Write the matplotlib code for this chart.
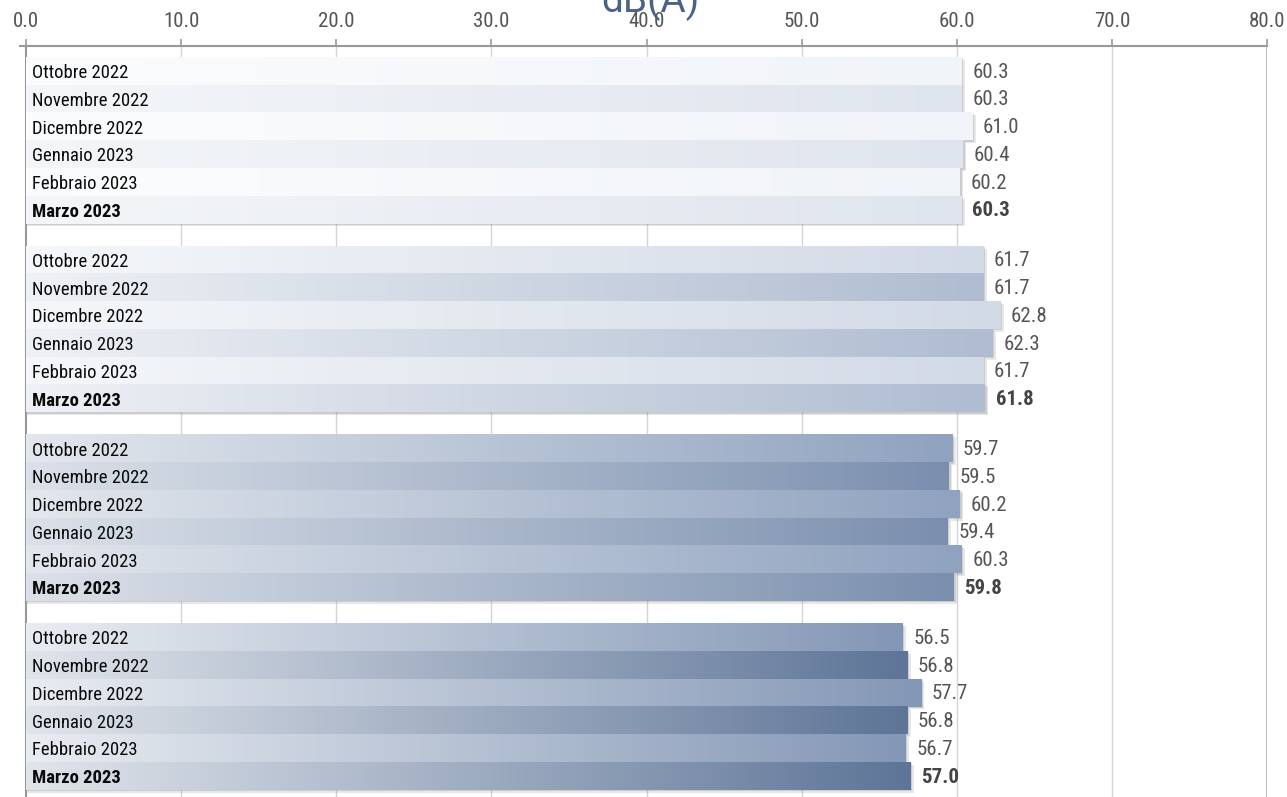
import numpy as np
import matplotlib
matplotlib.use("Agg")
import matplotlib.pyplot as plt
from matplotlib.colors import LinearSegmentedColormap
from matplotlib.patches import Rectangle

# ---- data ----
months = ["Ottobre 2022", "Novembre 2022", "Dicembre 2022",
          "Gennaio 2023", "Febbraio 2023", "Marzo 2023"]
group1 = [60.3, 60.3, 61.0, 60.4, 60.2, 60.3]
group2 = [61.7, 61.7, 62.8, 62.3, 61.7, 61.8]
group3 = [59.7, 59.5, 60.2, 59.4, 60.3, 59.8]
group4 = [56.5, 56.8, 57.7, 56.8, 56.7, 57.0]
groups = [group1, group2, group3, group4]
xticks = [0, 10, 20, 30, 40, 50, 60, 70, 80]
title = "dB(A)"

# gradient colours per group: (light row left, light row right, dark row left, dark row right)
group_colors = [
    ("#fbfcfd", "#f1f4f8", "#f4f6f9", "#dfe5ee"),
    ("#f5f7fa", "#d2dae6", "#eef1f5", "#afbcd1"),
    ("#e3e7ed", "#8fa2bf", "#dce1e9", "#7a8fae"),
    ("#e9ecf1", "#8397b6", "#e1e5eb", "#5e7598"),
]

FONT = ["Roboto Condensed", "Roboto", "DejaVu Sans"]
FONT_TITLE = ["Roboto", "DejaVu Sans"]

fig = plt.figure(figsize=(12.87, 7.97), dpi=100)
ax = fig.add_axes([26 / 1287, 0.0, (1267 - 26) / 1287, 1 - 46 / 797])

group_pitch = 6.8
grad = np.linspace(0, 1, 256).reshape(1, -1)

for g, vals in enumerate(groups):
    cl0, cl1, cd0, cd1 = group_colors[g]
    cmap_light = LinearSegmentedColormap.from_list("l%d" % g, [cl0, cl1])
    cmap_dark = LinearSegmentedColormap.from_list("d%d" % g, [cd0, cd1])
    for i, v in enumerate(vals):
        y = g * group_pitch + i
        cmap = cmap_light if i % 2 == 0 else cmap_dark
        # soft shadow
        ax.add_patch(Rectangle((0.0, y - 0.5 + 0.05), v + 0.12, 1.0,
                               facecolor="#8a8a8a", alpha=0.30, edgecolor="none",
                               zorder=2))
        ax.add_patch(Rectangle((0.0, y - 0.5 + 0.10), v + 0.22, 1.0,
                               facecolor="#a0a0a0", alpha=0.25, edgecolor="none",
                               zorder=2))
        # gradient bar
        ax.imshow(cmap(grad), extent=[0, v, y + 0.5, y - 0.5], aspect="auto",
                  interpolation="bilinear", zorder=3)
        bold = (i == len(vals) - 1)
        ax.text(0.39, y + 0.08, months[i], ha="left", va="center",
                fontsize=13.4, family=FONT, color="#0a0a0a",
                fontweight="bold" if bold else "normal", zorder=5)
        ax.text(v + 0.7, y + 0.04, f"{v:.1f}", ha="left", va="center",
                fontsize=15, family=FONT,
                color="#444444" if bold else "#555555",
                fontweight="bold" if bold else "normal", zorder=5)

ymax = 3 * group_pitch + 5
ax.set_ylim(ymax + 0.76, -0.9)
ax.set_xlim(0, 80)

# grid lines
for xt in xticks[1:-1]:
    ax.axvline(xt, color="#d4d4d4", lw=1.0, zorder=1)
ax.axvline(80, color="#b0b0b0", lw=1.2, zorder=1)

ax.xaxis.set_ticks_position("top")
ax.xaxis.set_label_position("top")
ax.set_xticks(xticks)
ax.set_xticklabels([f"{t:.1f}" for t in xticks], family=FONT,
                   fontsize=15, color="#555555")
ax.tick_params(axis="x", direction="out", length=5, width=1.2, color="#999999", pad=6)
ax.set_yticks([])

for s in ["right", "bottom"]:
    ax.spines[s].set_visible(False)
ax.spines["top"].set_color("#999999")
ax.spines["top"].set_linewidth(1.5)
ax.spines["left"].set_color("#999999")
ax.spines["left"].set_linewidth(1.5)
ax.plot([-0.4, 0], [-0.9, -0.9], color="#999999", lw=1.5, clip_on=False, zorder=6)

fig.text(650 / 1287, 1 - 12 / 797, title, ha="center", va="baseline",
         fontsize=28, family=FONT_TITLE, color="#4a6384")

fig.savefig("out.png", dpi=100)
